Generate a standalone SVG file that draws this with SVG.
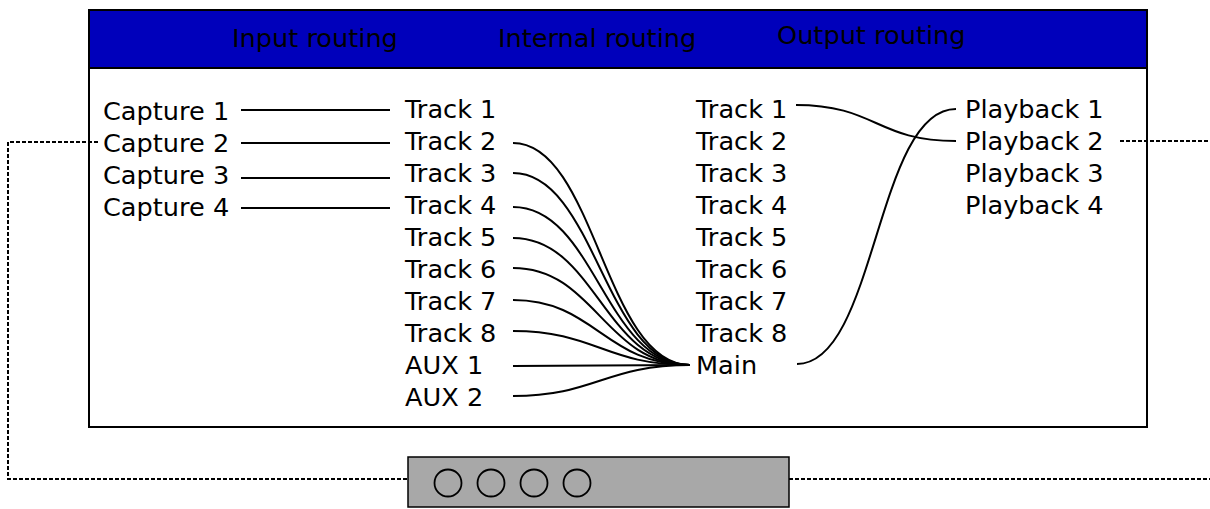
<svg xmlns="http://www.w3.org/2000/svg" width="1210" height="509" viewBox="0 0 1210 509">
<style>
text{font-family:"DejaVu Sans","Liberation Sans",sans-serif;font-size:25.6px;fill:#000}
.w{fill:none;stroke:#000;stroke-width:2}
.d{fill:none;stroke:#000;stroke-width:2;stroke-dasharray:4,2}
</style>
<g id="panel">
<rect x="89" y="10" width="1058" height="417" fill="#fff" stroke="#000" stroke-width="2"/>
<rect x="89" y="10" width="1058" height="58" fill="#0000bb" stroke="#000" stroke-width="2"/>
<text x="232" y="47">Input routing</text>
<text x="498" y="47">Internal routing</text>
<text x="777" y="44">Output routing</text>
</g>
<g id="capture">
<text x="103" y="120">Capture 1</text>
<text x="103" y="152">Capture 2</text>
<text x="103" y="184">Capture 3</text>
<text x="103" y="216">Capture 4</text>
</g>
<g id="tracks-in">
<text x="405" y="118">Track 1</text>
<text x="405" y="150">Track 2</text>
<text x="405" y="182">Track 3</text>
<text x="405" y="214">Track 4</text>
<text x="405" y="246">Track 5</text>
<text x="405" y="278">Track 6</text>
<text x="405" y="310">Track 7</text>
<text x="405" y="342">Track 8</text>
<text x="405" y="374">AUX 1</text>
<text x="405" y="406">AUX 2</text>
</g>
<g id="tracks-out">
<text x="696" y="118">Track 1</text>
<text x="696" y="150">Track 2</text>
<text x="696" y="182">Track 3</text>
<text x="696" y="214">Track 4</text>
<text x="696" y="246">Track 5</text>
<text x="696" y="278">Track 6</text>
<text x="696" y="310">Track 7</text>
<text x="696" y="342">Track 8</text>
<text x="696" y="374">Main</text>
</g>
<g id="playback">
<text x="965" y="118">Playback 1</text>
<text x="965" y="150">Playback 2</text>
<text x="965" y="182">Playback 3</text>
<text x="965" y="214">Playback 4</text>
</g>
<g id="device">
<rect x="408" y="457" width="381" height="50" fill="#a8a8a8" stroke="#000" stroke-width="1.5"/>
<circle cx="448" cy="483" r="13.5" fill="none" stroke="#000" stroke-width="1.8"/>
<circle cx="491" cy="483" r="13.5" fill="none" stroke="#000" stroke-width="1.8"/>
<circle cx="534" cy="483" r="13.5" fill="none" stroke="#000" stroke-width="1.8"/>
<circle cx="577" cy="483" r="13.5" fill="none" stroke="#000" stroke-width="1.8"/>
</g>
<g id="connectors">
<path class="w" d="M241,110H390M241,143H390M241,178H390M241,208H390"/>
<path class="w" d="M513,143C595,143 605,365 690,365"/>
<path class="w" d="M513,173C595,173 605,365 690,365"/>
<path class="w" d="M513,207C595,207 605,365 690,365"/>
<path class="w" d="M513,238C595,238 605,365 690,365"/>
<path class="w" d="M513,268C595,268 605,365 690,365"/>
<path class="w" d="M513,300C595,300 605,365 690,365"/>
<path class="w" d="M513,331C595,331 605,365 690,365"/>
<path class="w" d="M513,366C595,366 605,365 690,365"/>
<path class="w" d="M513,396C595,396 605,365 690,365"/>
<path class="w" d="M796,105C876,105 876,141 956,141"/>
<path class="w" d="M797,364C876,364 876,109 956,109"/>
<path class="d" d="M98,142H8V479H408"/>
<path class="d" d="M1120,141H1210"/>
<path class="d" d="M789,479H1210"/>
</g>
</svg>
